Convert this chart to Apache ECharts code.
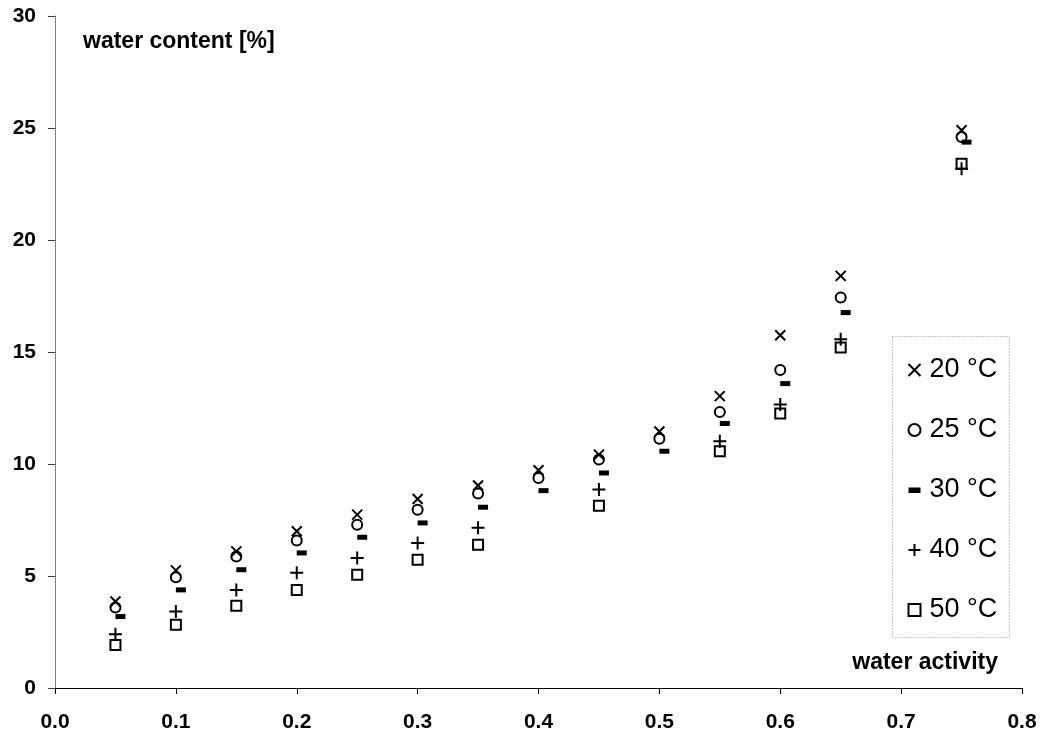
<!DOCTYPE html>
<html>
<head>
<meta charset="utf-8">
<script src="https://cdn.jsdelivr.net/npm/echarts@6/dist/echarts.min.js"></script>
<style>
html,body{margin:0;padding:0;background:#fff;}
#chart{width:1040px;height:742px;}
</style>
</head>
<body>
<div id="chart"></div>
<script>
// water activity (x)
const aw = [0.05, 0.1, 0.15, 0.2, 0.25, 0.3, 0.35, 0.4, 0.45, 0.5, 0.55, 0.6, 0.65, 0.75];
// water content [%] per temperature
const t20 = [3.86, 5.25, 6.10, 7.00, 7.74, 8.44, 9.04, 9.72, 10.42, 11.45, 13.03, 15.75, 18.40, 24.90];
const t25 = [3.59, 4.94, 5.87, 6.58, 7.29, 7.96, 8.68, 9.38, 10.20, 11.13, 12.32, 14.20, 17.43, 24.60];
const t30 = [3.19, 4.38, 5.28, 6.03, 6.73, 7.37, 8.07, 8.81, 9.60, 10.57, 11.81, 13.59, 16.76, 24.37];
const t40 = [2.40, 3.41, 4.38, 5.15, 5.80, 6.47, 7.15, null, 8.86, null, 11.02, 12.66, 15.57, 23.18];
const t50 = [1.92, 2.82, 3.67, 4.38, 5.06, 5.73, 6.40, null, 8.14, null, 10.57, 12.26, 15.20, 23.40];
const seriesNames = ['20 °C', '25 °C', '30 °C', '40 °C', '50 °C'];
const xTicks = [0, 0.8, 0.1];
const yTicks = [0, 30, 5];

function pairs(ys) {
  const out = [];
  ys.forEach((v, i) => { if (v !== null) out.push([aw[i], v]); });
  return out;
}

const FONT = '"Liberation Sans", Arial, sans-serif';
const chart = echarts.init(document.getElementById('chart'), null, {renderer: 'canvas'});

const strokeStyle = {color: 'none', borderColor: '#000', borderWidth: 2, opacity: 1};
const DASH = 'path://M0,0L10,0L10,5L0,5Z';
const DASH_LEGEND = 'path://M0,0M0,3.5L12,3.5L12,9L0,9ZM12,12';

const option = {
  backgroundColor: '#fff',
  animation: false,
  grid: {left: 55, right: 18, top: 16, bottom: 54, containLabel: false},
  xAxis: {
    type: 'value', min: xTicks[0], max: xTicks[1], interval: xTicks[2],
    splitLine: {show: false},
    axisLine: {show: true, lineStyle: {color: '#000', width: 1}},
    axisTick: {show: true, inside: false, length: 6, lineStyle: {color: '#000'}},
    axisLabel: {margin: 24, color: '#000', fontFamily: FONT, fontWeight: 'bold', fontSize: 21,
      formatter: v => v.toFixed(1)}
  },
  yAxis: {
    type: 'value', min: yTicks[0], max: yTicks[1], interval: yTicks[2],
    splitLine: {show: false},
    axisLine: {show: true, lineStyle: {color: '#808080', width: 1}},
    axisTick: {show: true, inside: false, length: 7, lineStyle: {color: '#404040'}},
    axisLabel: {margin: 19, color: '#000', fontFamily: FONT, fontWeight: 'bold', fontSize: 21}
  },
  legend: {
    orient: 'vertical', left: 901, top: 350,
    itemWidth: 12, itemHeight: 12, itemGap: 30,
    textStyle: {fontFamily: FONT, fontSize: 27, color: '#000', lineHeight: 30, padding: [0, 0, 0, 4]},
    data: seriesNames.map(n => n === seriesNames[2] ? {name: n, icon: DASH_LEGEND} : n)
  },
  graphic: [
    {type: 'rect', left: 890, top: 334, silent: true,
      shape: {width: 117, height: 301},
      style: {fill: 'none', stroke: '#8a8a8a', lineWidth: 1, lineDash: [1, 2]}},
    {type: 'text', x: 83, y: 42, silent: true,
      style: {text: 'water content [%]', font: 'bold 23px ' + FONT, fill: '#000', verticalAlign: 'middle', align: 'left'}},
    {type: 'text', x: 998, y: 663, silent: true,
      style: {text: 'water activity', font: 'bold 23px ' + FONT, fill: '#000', verticalAlign: 'middle', align: 'right'}}
  ],
  series: [
    {name: seriesNames[0], type: 'scatter', data: pairs(t20),
      symbol: 'path://M0,0L10,10M10,0L0,10', symbolSize: 10, itemStyle: strokeStyle},
    {name: seriesNames[1], type: 'scatter', data: pairs(t25),
      symbol: 'circle', symbolSize: 10, itemStyle: strokeStyle},
    {name: seriesNames[2], type: 'scatter', data: pairs(t30),
      symbol: DASH, symbolSize: [10, 5], symbolOffset: [5, 0],
      itemStyle: {color: '#000', borderWidth: 0, opacity: 1}},
    {name: seriesNames[3], type: 'scatter', data: pairs(t40),
      symbol: 'path://M0,5L10,5M5,0L5,10', symbolSize: 13, itemStyle: strokeStyle},
    {name: seriesNames[4], type: 'scatter', data: pairs(t50),
      symbol: 'rect', symbolSize: 10, itemStyle: strokeStyle}
  ]
};
chart.setOption(option);
</script>
</body>
</html>
